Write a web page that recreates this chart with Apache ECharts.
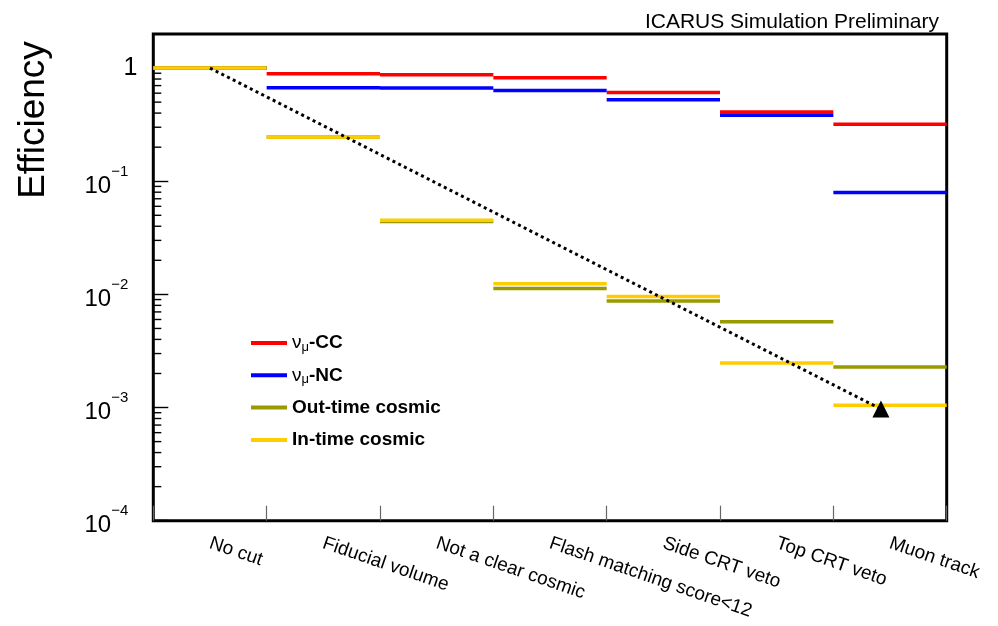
<!DOCTYPE html>
<html>
<head>
<meta charset="utf-8">
<script src="https://cdn.jsdelivr.net/npm/echarts@6/dist/echarts.min.js"></script>
<style>html,body{margin:0;padding:0;background:#fff}#c{width:998px;height:626px}</style>
</head>
<body>
<div id="c"></div>
<script>
// ---- data ----
const categories = ['No cut', 'Fiducial volume', 'Not a clear cosmic', 'Flash matching score<12', 'Side CRT veto', 'Top CRT veto', 'Muon track'];
const numuCC       = [1, 0.89, 0.875, 0.823, 0.607, 0.409, 0.318];
const numuNC       = [1, 0.67, 0.665, 0.632, 0.526, 0.382, 0.0794];
const outTimeCosmic = [1, 0.246, 0.0440, 0.0113, 0.00873, 0.00573, 0.00228];
const inTimeCosmic  = [1, 0.246, 0.0453, 0.0124, 0.0096, 0.00248, 0.00105];
const rejectionLine = [[0.5, 1], [6.42, 0.00097]];
const yMajorTicks = [1e-4, 1e-3, 1e-2, 1e-1, 1];
const yTickLabels = ['{sp|\u200b}{b|10}{s|\u22124}', '{sp|\u200b}{b|10}{s|\u22123}', '{sp|\u200b}{b|10}{s|\u22122}', '{sp|\u200b}{b|10}{s|\u22121}', '{one|1}'];
const yMinorTicks = [];
[1e-4, 1e-3, 1e-2, 1e-1].forEach(d => { for (let k = 2; k <= 9; k++) yMinorTicks.push(+(k * d).toPrecision(3)); });
const xLabelPositions = categories.map((c, i) => i + 0.5);
const legendNames = {
  'numu-CC': '{g|\u03bd}{sub|\u03bc}{t|-CC}',
  'numu-NC': '{g|\u03bd}{sub|\u03bc}{t|-NC}',
  'Out-time cosmic': '{t|Out-time cosmic}',
  'In-time cosmic': '{t|In-time cosmic}'
};

const FONT = "'Liberation Sans', Arial, Helvetica, sans-serif";
const chart = echarts.init(document.getElementById('c'), null, {renderer: 'canvas'});

function stepSeries(name, values, color) {
  return {
    type: 'custom',
    name: name,
    xAxisIndex: 0,
    yAxisIndex: 0,
    itemStyle: {color: color},
    clip: true,
    data: values.map((v, i) => [i, v]),
    renderItem: function (params, api) {
      const i = api.value(0), v = api.value(1);
      const p1 = api.coord([i, v]);
      const p2 = api.coord([i + 1, v]);
      return {
        type: 'line',
        shape: {x1: p1[0], y1: p1[1], x2: p2[0], y2: p2[1]},
        style: {stroke: color, lineWidth: 3.5}
      };
    }
  };
}

const option = {
  animation: false,
  backgroundColor: '#fff',
  textStyle: {fontFamily: FONT},
  title: {
    text: 'ICARUS Simulation Preliminary',
    right: 54, top: 7,
    textStyle: {fontFamily: FONT, fontSize: 21, fontWeight: 'normal', color: '#000'}
  },
  graphic: [{
    type: 'text', x: 34, y: 120, rotation: Math.PI / 2,
    style: {text: 'Efficiency', fontFamily: FONT, fontSize: 37, fill: '#000', textAlign: 'center', textVerticalAlign: 'middle'}
  }],
  grid: {
    left: 153.3, right: 51.3, top: 34, bottom: 105.3,
    show: true, borderColor: '#000', borderWidth: 3, backgroundColor: 'transparent'
  },
  legend: {
    orient: 'vertical', left: 251, top: 332, padding: 0,
    icon: 'rect', itemWidth: 36, itemHeight: 4, itemGap: 10.3,
    data: ['numu-CC', 'numu-NC', 'Out-time cosmic', 'In-time cosmic'],
    formatter: n => legendNames[n],
    textStyle: {
      fontFamily: FONT, lineHeight: 22,
      rich: {
        g: {fontFamily: FONT, fontSize: 19, color: '#000', lineHeight: 22},
        sub: {fontFamily: FONT, fontSize: 13, color: '#000', lineHeight: 8, verticalAlign: 'bottom'},
        t: {fontFamily: FONT, fontSize: 19, fontWeight: 'bold', color: '#000', lineHeight: 22}
      }
    }
  },
  xAxis: [{
    type: 'value', min: 0, max: 7, interval: 1,
    axisLine: {show: false},
    splitLine: {show: false},
    axisTick: {show: true, inside: true, length: 15, lineStyle: {color: '#666', width: 1.2}},
    axisLabel: {
      show: true, customValues: xLabelPositions, rotate: -19, margin: 22,
      fontFamily: FONT, fontSize: 19, color: '#000',
      formatter: v => categories[Math.floor(v)]
    }
  }],
  yAxis: [{
    type: 'log', logBase: 10, min: 1e-4, max: 2,
    axisLine: {show: false},
    splitLine: {show: false},
    axisTick: {show: true, inside: true, length: 15, customValues: yMajorTicks, lineStyle: {color: '#000', width: 1.4}},
    axisLabel: {
      show: true, customValues: yMajorTicks, margin: 16, align: 'right',
      formatter: v => yTickLabels[yMajorTicks.findIndex(t => Math.abs(Math.log10(t) - Math.log10(v)) < 1e-6)],
      rich: {
        sp: {fontFamily: FONT, fontSize: 10, lineHeight: 34, width: 0},
        b: {fontFamily: FONT, fontSize: 24, color: '#000', lineHeight: 22, verticalAlign: 'bottom'},
        s: {fontFamily: FONT, fontSize: 15, color: '#000', lineHeight: 18, verticalAlign: 'top', padding: [0, 9, 0, 0]},
        one: {fontFamily: FONT, fontSize: 25, color: '#000', lineHeight: 30}
      }
    }
  }],
  series: [
    stepSeries('numu-CC', numuCC, '#ff0000'),
    stepSeries('numu-NC', numuNC, '#0000ff'),
    stepSeries('Out-time cosmic', outTimeCosmic, '#999900'),
    stepSeries('In-time cosmic', inTimeCosmic, '#ffcc00'),
    {
      type: 'custom', name: 'minor ticks', xAxisIndex: 0, yAxisIndex: 0, clip: false,
      data: yMinorTicks.map(v => [0, v]),
      renderItem: function (params, api) {
        const p = api.coord([api.value(0), api.value(1)]);
        return {type: 'line', shape: {x1: p[0], y1: p[1], x2: p[0] + 8, y2: p[1]}, style: {stroke: '#000', lineWidth: 1.4}};
      },
      silent: true
    },
    {
      type: 'line', name: 'rejection', xAxisIndex: 0, yAxisIndex: 0,
      data: [
        {value: rejectionLine[0], symbol: 'none'},
        {value: rejectionLine[1], symbol: 'triangle', symbolSize: 17}
      ],
      showSymbol: true,
      itemStyle: {color: '#000'},
      lineStyle: {color: '#000', width: 3, type: [3, 3.4], cap: 'butt'},
      z: 5
    }
  ]
};
chart.setOption(option);
</script>
</body>
</html>
